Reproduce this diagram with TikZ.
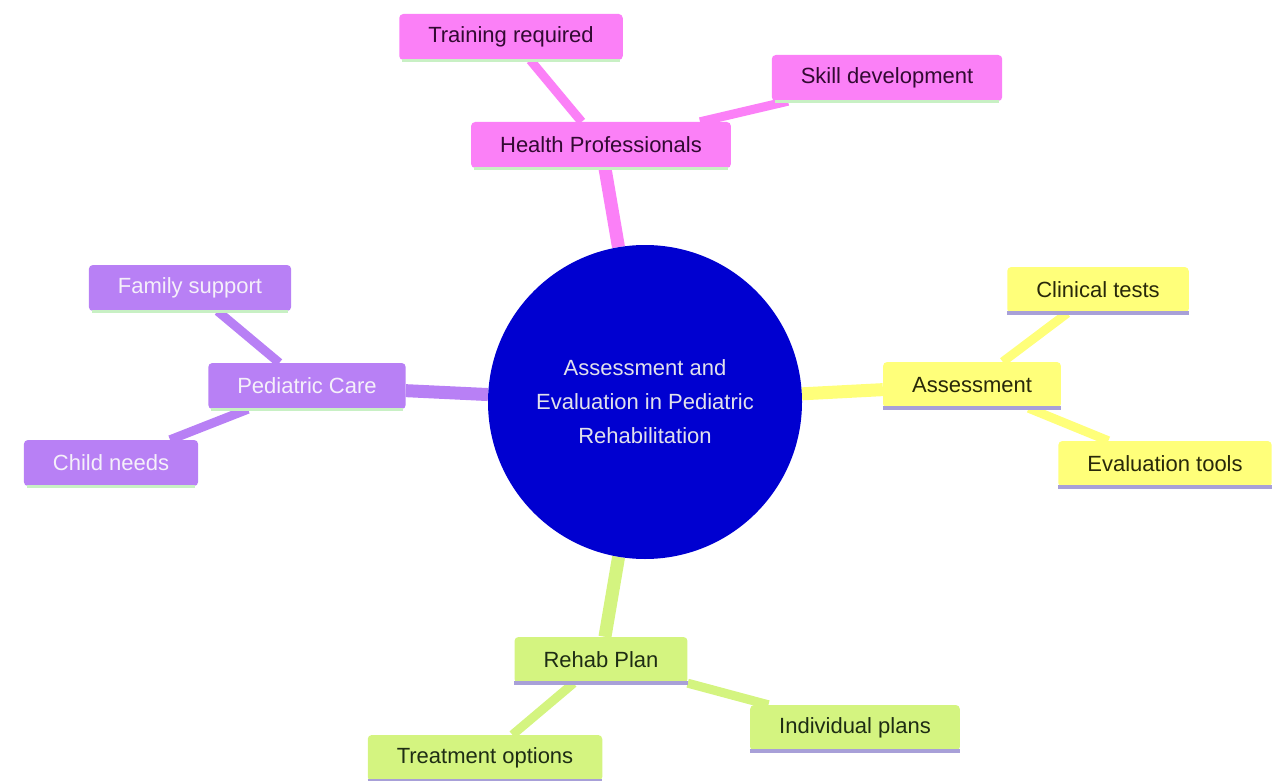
\documentclass[tikz,border=0pt]{standalone}
\usepackage{fontspec}
\setmainfont{Liberation Sans}
\usepackage{xcolor}
\usetikzlibrary{backgrounds}

\definecolor{hubblue}{RGB}{0,0,208}
\definecolor{hubtext}{RGB}{225,225,235}
\definecolor{pinkfill}{RGB}{251,128,247}
\definecolor{yellowfill}{RGB}{255,255,122}
\definecolor{purplefill}{RGB}{184,128,245}
\definecolor{limefill}{RGB}{212,244,128}
\definecolor{greenrule}{RGB}{200,240,196}
\definecolor{lavrule}{RGB}{168,160,216}

\begin{document}
\begin{tikzpicture}[
  x=1pt, y=-1pt,
  hub/.style={circle, fill=hubblue, minimum size=314pt, inner sep=0pt,
              align=center, text=hubtext, font=\fontsize{22}{34}\selectfont},
  topic/.style={rectangle, rounded corners=4pt, minimum height=46pt,
                inner xsep=29pt, font=\fontsize{22}{26}\selectfont},
  pinkbox/.style={topic, fill=pinkfill, text={rgb,255:red,50;green,10;blue,50}},
  yellowbox/.style={topic, fill=yellowfill, text={rgb,255:red,40;green,40;blue,10}},
  purplebox/.style={topic, fill=purplefill, text={rgb,255:red,245;green,240;blue,250}},
  limebox/.style={topic, fill=limefill, text={rgb,255:red,30;green,45;blue,20}},
  mainlink/.style={line width=13pt},
  leaflink/.style={line width=9pt}
]
\useasboundingbox (0,0) rectangle (1274,781);

% Centre
\node[hub] (hub) at (645,402) {Assessment and\\Evaluation in Pediatric\\Rehabilitation};

% Top branch: Health Professionals
\node[pinkbox] (prof)  at (601,145) {Health Professionals};
\node[pinkbox] (train) at (511,37)  {Training required};
\node[pinkbox] (skill) at (887,78)  {Skill development};

% Right branch: Assessment
\node[yellowbox] (assess) at (972,385)  {Assessment};
\node[yellowbox] (clin)   at (1098,290) {Clinical tests};
\node[yellowbox] (evtool) at (1165,464) {Evaluation tools};

% Left branch: Pediatric Care
\node[purplebox] (care)   at (307,386) {Pediatric Care};
\node[purplebox] (family) at (190,288) {Family support};
\node[purplebox] (child)  at (111,463) {Child needs};

% Bottom branch: Rehab Plan
\node[limebox] (rehab) at (601,660) {Rehab Plan};
\node[limebox] (treat) at (485,758) {Treatment options};
\node[limebox] (indiv) at (855,728) {Individual plans};

% Under rules of the boxes
\foreach \n in {prof, train, skill, care, family, child}
  \draw[greenrule, line width=3pt] (\n.south west) ++(3,0) -- ([xshift=-3pt]\n.south east);
\foreach \n in {assess, clin, evtool, rehab, treat, indiv}
  \draw[lavrule, line width=3.5pt] (\n.south west) -- (\n.south east);

% --- Connectors (drawn behind) ---
\begin{pgfonlayer}{background}
  % hub to branches
  \draw[mainlink, pinkfill]   (hub) -- (prof);
  \draw[mainlink, yellowfill] (hub) -- (assess);
  \draw[mainlink, purplefill] (hub) -- (care);
  \draw[mainlink, limefill]   (hub) -- (rehab);

  % branches to leaves
  \draw[leaflink, pinkfill]   (prof) -- (train);
  \draw[leaflink, pinkfill]   (prof) -- (skill);
  \draw[leaflink, yellowfill] (assess) -- (clin);
  \draw[leaflink, yellowfill] (assess) -- (evtool);
  \draw[leaflink, purplefill] (care) -- (family);
  \draw[leaflink, purplefill] (care) -- (child);
  \draw[leaflink, limefill]   (rehab) -- (treat);
  \draw[leaflink, limefill]   (rehab) -- (indiv);
\end{pgfonlayer}

\end{tikzpicture}
\end{document}
